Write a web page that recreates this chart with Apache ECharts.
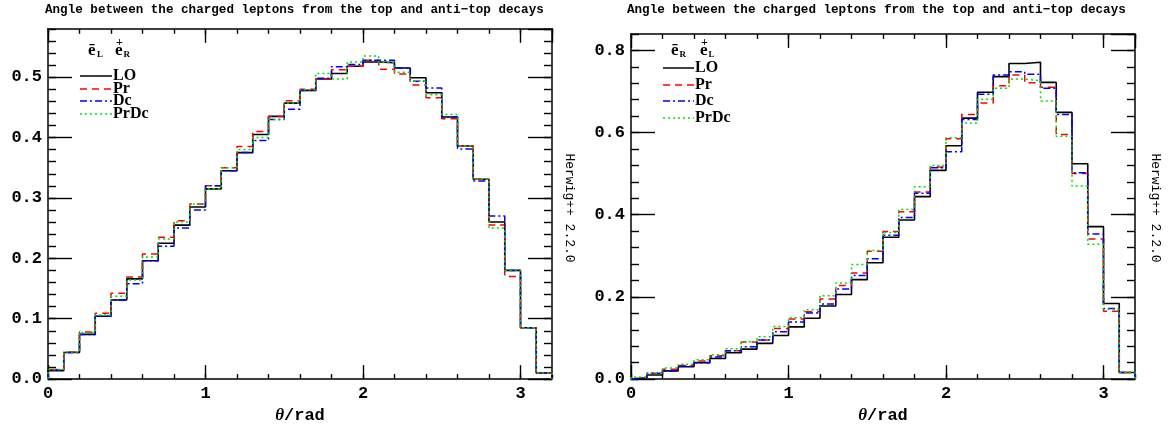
<!DOCTYPE html>
<html>
<head>
<meta charset="utf-8">
<script src="https://cdn.jsdelivr.net/npm/echarts@6/dist/echarts.min.js"></script>
<style>
html,body{margin:0;padding:0;background:#fff;}
#chart{width:1172px;height:429px;}
</style>
</head>
<body>
<div id="chart"></div>
<script>
// ---------- data ----------
const binEdges = [0.0,0.1,0.2,0.3,0.4,0.5,0.6,0.7,0.8,0.9,1.0,1.1,1.2,1.3,1.4,1.5,1.6,1.7,1.8,1.9,2.0,2.1,2.2,2.3,2.4,2.5,2.6,2.7,2.8,2.9,3.0,3.1,3.2];
const seriesNames = ['LO','Pr','Dc','PrDc'];
const title = 'Angle between the charged leptons from the top and anti\u2212top decays';
const xTicks = [0,1,2,3];
const leftYTicks = [0.0,0.1,0.2,0.3,0.4,0.5];
const rightYTicks = [0.0,0.2,0.4,0.6,0.8];

// left panel: e_L^- e_R^+
const leftLO   = [0.014,0.044,0.074,0.104,0.131,0.166,0.196,0.225,0.255,0.285,0.315,0.345,0.375,0.405,0.435,0.457,0.478,0.497,0.506,0.518,0.525,0.524,0.515,0.499,0.474,0.434,0.386,0.331,0.260,0.180,0.085,0.010];
const leftPr   = [0.016,0.045,0.078,0.109,0.142,0.169,0.207,0.235,0.262,0.290,0.320,0.350,0.385,0.410,0.435,0.461,0.480,0.497,0.512,0.518,0.528,0.513,0.505,0.487,0.466,0.431,0.386,0.331,0.255,0.170,0.085,0.010];
const leftDc   = [0.015,0.044,0.074,0.104,0.131,0.158,0.196,0.220,0.250,0.280,0.320,0.345,0.375,0.395,0.430,0.447,0.478,0.498,0.517,0.521,0.528,0.528,0.515,0.493,0.482,0.434,0.381,0.328,0.270,0.180,0.085,0.010];
const leftPrDc = [0.016,0.045,0.077,0.106,0.137,0.164,0.202,0.232,0.260,0.290,0.315,0.350,0.380,0.400,0.430,0.457,0.479,0.506,0.497,0.525,0.535,0.524,0.508,0.493,0.471,0.438,0.386,0.331,0.250,0.180,0.085,0.010];

// right panel: e_R^- e_L^+
const rightLO   = [0.003,0.010,0.020,0.030,0.040,0.050,0.064,0.073,0.087,0.106,0.127,0.148,0.178,0.206,0.242,0.283,0.345,0.387,0.444,0.508,0.568,0.635,0.698,0.736,0.768,0.771,0.722,0.649,0.524,0.371,0.184,0.016];
const rightPr   = [0.004,0.014,0.024,0.033,0.044,0.057,0.069,0.090,0.095,0.123,0.146,0.164,0.195,0.228,0.258,0.311,0.359,0.407,0.455,0.516,0.585,0.644,0.672,0.714,0.740,0.721,0.710,0.595,0.500,0.341,0.165,0.016];
const rightDc   = [0.003,0.014,0.020,0.031,0.040,0.054,0.069,0.079,0.095,0.115,0.139,0.161,0.183,0.219,0.252,0.293,0.350,0.393,0.452,0.514,0.553,0.632,0.693,0.740,0.748,0.742,0.708,0.644,0.502,0.353,0.172,0.016];
const rightPrDc = [0.005,0.014,0.027,0.036,0.047,0.059,0.074,0.091,0.103,0.128,0.149,0.169,0.203,0.234,0.279,0.313,0.357,0.413,0.468,0.520,0.587,0.623,0.681,0.708,0.730,0.726,0.677,0.591,0.470,0.328,0.170,0.016];

// ---------- styles ----------
const MONO = '"Liberation Mono", "DejaVu Sans Mono", monospace';
const SERIF = '"Liberation Serif", "DejaVu Serif", serif';
const styles = [
  {color:'#000000', type:'solid'},
  {color:'#ff0000', type:[7,5]},
  {color:'#0000ff', type:[7,3,2,3]},
  {color:'#00e000', type:[2,3]}
];

const X_MAX = 3.2;
const panels = [
  {grid:{left:48, right:620, top:28.8, bottom:42.3}, yMax:0.58, yMajor:0.1, yMinor:0.02, yTicks:leftYTicks,
   data:[leftLO,leftPr,leftDc,leftPrDc]},
  {grid:{left:631, right:37, top:33.9, bottom:42.3}, yMax:0.84, yMajor:0.2, yMinor:0.04, yTicks:rightYTicks,
   data:[rightLO,rightPr,rightDc,rightPrDc]}
];

const grids = [], xAxes = [], yAxes = [], series = [];
panels.forEach((p, gi) => {
  grids.push(p.grid);
  const xBase = xAxes.length, yBase = yAxes.length;
  // x axes: bottom major, bottom minor, top major, top minor
  [['bottom',true],['bottom',false],['top',true],['top',false]].forEach(([pos, major]) => {
    xAxes.push({
      type:'value', gridIndex:gi, position:pos, min:0, max:X_MAX,
      interval: major ? 1 : 0.2,
      axisLine:{show:major, onZero:false, lineStyle:{color:'#000', width:1.5}},
      axisTick:{show:true, inside:true, length: major ? 14 : 5, lineStyle:{color:'#000', width:1.4}},
      axisLabel:{show: major && pos==='bottom', showMaxLabel:false, color:'#000',
        fontFamily:MONO, fontWeight:'bold', fontSize:17, margin:6,
        formatter:(v)=> xTicks.indexOf(Math.round(v*1000)/1000) >= 0 ? String(Math.round(v)) : ''},
      splitLine:{show:false},
      name: (major && pos==='bottom') ? '{t|\u03b8}{r|/rad}' : '',
      nameLocation:'middle', nameGap:26,
      nameTextStyle:{rich:{
        t:{fontFamily:SERIF, fontStyle:'italic', fontWeight:'bold', fontSize:17, color:'#000'},
        r:{fontFamily:MONO, fontWeight:'bold', fontSize:17, color:'#000'}
      }}
    });
  });
  // y axes: left major, left minor, right major, right minor
  [['left',true],['left',false],['right',true],['right',false]].forEach(([pos, major]) => {
    yAxes.push({
      type:'value', gridIndex:gi, position:pos, min:0, max:p.yMax,
      interval: major ? p.yMajor : p.yMinor,
      axisLine:{show:major, onZero:false, lineStyle:{color:'#000', width:1.5}},
      axisTick:{show:true, inside:true, length: major ? 24 : 8, lineStyle:{color:'#000', width:1.4}},
      axisLabel:{show: major && pos==='left', showMaxLabel:false, color:'#000',
        fontFamily:MONO, fontWeight:'bold', fontSize:17, margin:6,
        formatter:(v)=> {
          const r = Math.round(v*1000)/1000;
          return p.yTicks.some(t => Math.abs(t-r) < 1e-6) ? r.toFixed(1) : '';
        }},
      splitLine:{show:false}
    });
  });
  p.data.forEach((vals, si) => {
    const pts = [[binEdges[0], 0]];
    vals.forEach((v, k) => pts.push([binEdges[k], v]));
    pts.push([binEdges[binEdges.length-1], vals[vals.length-1]]);
    pts.push([binEdges[binEdges.length-1], 0]);
    series.push({
      type:'line', name:seriesNames[si], xAxisIndex:xBase, yAxisIndex:yBase,
      data:pts, step:'end', showSymbol:false, symbol:'none', silent:true, animation:false,
      lineStyle:{color:styles[si].color, type:styles[si].type, width: si===0 ? 1.6 : 1.5},
      z: 2 + si
    });
  });
});

// ---------- graphic texts ----------
const graphic = [];
function txt(x, y, s, font) {
  graphic.push({type:'text', x:x, y:y, style:{text:s, fill:'#000', font:font, textVerticalAlign:'middle'}});
}
// titles
txt(45, 10, title, 'bold 12.6px ' + MONO);
txt(627, 10, title, 'bold 12.6px ' + MONO);
// Herwig labels
graphic.push({type:'text', x:569, y:208, rotation:-Math.PI/2,
  style:{text:'Herwig++ 2.2.0', fill:'#000', font:'13px ' + MONO, textAlign:'center', textVerticalAlign:'middle'}});
graphic.push({type:'text', x:1155, y:208, rotation:-Math.PI/2,
  style:{text:'Herwig++ 2.2.0', fill:'#000', font:'13px ' + MONO, textAlign:'center', textVerticalAlign:'middle'}});

// legend headers
const HB = 'bold 17px ' + SERIF, HS = 'bold 9px ' + SERIF, HP = 'bold 12px ' + SERIF;
txt(88, 51, '\u0113', HB); txt(97, 55, 'L', HS);
txt(115, 51, 'e', HB); txt(116, 43, '+', HP); txt(123.5, 55, 'R', HS);
txt(671, 51, '\u0113', HB); txt(679.5, 55, 'R', HS);
txt(700, 51, 'e', HB); txt(701, 43, '+', HP); txt(708.5, 55, 'L', HS);

// legend entries
function legendBlock(x0, x1, ys) {
  seriesNames.forEach((n, i) => {
    graphic.push({type:'line', shape:{x1:x0, y1:ys[i], x2:x1, y2:ys[i]},
      style:{stroke:styles[i].color, lineWidth:1.5, lineDash: styles[i].type==='solid' ? null : styles[i].type}});
    txt(x1 + 1, ys[i], n, 'bold 16px ' + SERIF);
  });
}
legendBlock(80, 112, [76, 89, 101, 114]);
legendBlock(663, 694, [68, 85, 101, 118]);

const chart = echarts.init(document.getElementById('chart'), null, {renderer:'canvas'});
chart.setOption({
  animation:false,
  backgroundColor:'#fff',
  grid:grids, xAxis:xAxes, yAxis:yAxes, series:series, graphic:graphic
});
</script>
</body>
</html>
